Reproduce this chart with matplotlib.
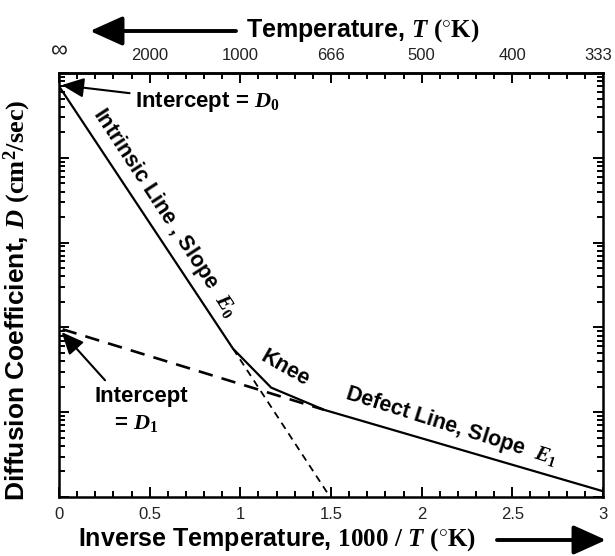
import matplotlib.pyplot as plt
import numpy as np
from matplotlib.ticker import MultipleLocator, LogLocator, NullFormatter
from matplotlib.transforms import ScaledTranslation

plt.rcParams['font.family'] = ['Liberation Sans', 'DejaVu Sans']
plt.rcParams['mathtext.fontset'] = 'custom'
plt.rcParams['mathtext.rm'] = 'Liberation Serif:bold'
plt.rcParams['mathtext.it'] = 'Liberation Serif:italic:bold'
plt.rcParams['mathtext.bf'] = 'Liberation Serif:bold'

# measured line (solid): intrinsic -> knee -> defect
solid_x = [0.0, 0.96, 1.17, 1.46, 3.0]
solid_D = [7.0e4, 56.0, 19.5, 10.7, 1.17]
# dashed extension of the defect line back to 1000/T = 0
defect_x = [0.02, 1.46]
defect_D = [95.0, 10.7]
# dashed extension of the intrinsic line
intr_x = [0.96, 1.495]
intr_D = [56.0, 1.0]

bottom_ticks = [0, 0.5, 1, 1.5, 2, 2.5, 3]
bottom_labels = ['0', '0.5', '1', '1.5', '2', '2.5', '3']
top_labels = ['\u221e', '2000', '1000', '666', '500', '400', '333']

fig = plt.figure(figsize=(6.15, 5.56), dpi=100)
ax = fig.add_axes([0.0959, 0.1061, 0.8846, 0.7626])

ax.plot(solid_x, solid_D, color='k', lw=1.6, solid_joinstyle='miter')
ax.plot(defect_x, defect_D, color='k', lw=1.9, linestyle=(0, (5.5, 3.5)))
ax.plot(intr_x, intr_D, color='k', lw=1.3, linestyle=(0, (4, 3)))

ax.set_yscale('log')
ax.set_xlim(0, 3)
ax.set_ylim(1, 1e5)
ax.yaxis.set_major_locator(LogLocator(base=10, numticks=10))
ax.yaxis.set_minor_locator(LogLocator(base=10, subs=np.arange(2, 10), numticks=10))
ax.yaxis.set_major_formatter(NullFormatter())
ax.yaxis.set_minor_formatter(NullFormatter())
ax.set_xticks(bottom_ticks, bottom_labels)
ax.xaxis.set_minor_locator(MultipleLocator(0.1))

for s in ax.spines.values():
    s.set_linewidth(1.8)

ax.tick_params(which='both', direction='in', left=True, right=True, top=False,
               bottom=True, width=1.4, labelsize=12, labelcolor='#222222')
ax.tick_params(which='major', length=7, pad=7.5)
ax.tick_params(which='minor', length=4)

secax = ax.secondary_xaxis('top')
secax.set_xticks(bottom_ticks, top_labels)
secax.xaxis.set_minor_locator(MultipleLocator(0.1))
secax.tick_params(which='both', direction='in', width=1.4, labelsize=12,
                  labelcolor='#222222')
secax.tick_params(which='major', length=7, pad=7.5)
secax.tick_params(which='minor', length=4)
secax.spines['top'].set_linewidth(1.8)

fig.canvas.draw()
top_ticklabels = secax.get_xticklabels()
top_ticklabels[0].set_fontsize(17)
top_ticklabels[-1].set_transform(top_ticklabels[-1].get_transform() +
                                 ScaledTranslation(-5 / 100, 0, fig.dpi_scale_trans))

# annotations
head = '-|>,head_length=0.9,head_width=0.4'
ax.annotate('Intercept = $D_0$', xy=(0.015, 7.2e4), xytext=(0.42, 4.5e4),
            ha='left', va='center', fontsize=16, fontweight='bold',
            arrowprops=dict(arrowstyle=head, color='k', lw=1.5, shrinkA=2,
                            shrinkB=0, mutation_scale=15))
ax.annotate('', xy=(0.015, 88), xytext=(0.254, 23.8),
            arrowprops=dict(arrowstyle=head, color='k', lw=1.5, shrinkA=0,
                            shrinkB=0, mutation_scale=15))
ax.text(0.452, 15.4, 'Intercept', ha='center', va='center', fontsize=16,
        fontweight='bold')
ax.text(0.425, 7.4, '= $D_1$', ha='center', va='center', fontsize=16,
        fontweight='bold')
ax.text(0.585, 2254, 'Intrinsic Line , Slope  $\\mathit{E}_0$', rotation=-56.8,
        rotation_mode='anchor', ha='center', va='center', fontsize=15.5,
        fontweight='bold')
ax.text(1.246, 33, 'Knee', rotation=-30, rotation_mode='anchor',
        ha='center', va='center', fontsize=15.5, fontweight='bold')
ax.text(2.165, 6.9, 'Defect Line, Slope  $\\mathit{E}_1$', rotation=-17.5,
        rotation_mode='anchor', ha='center', va='center', fontsize=15.5,
        fontweight='bold')

# axis titles with arrows
fig.text(277 / 615, 1 - 540 / 556,
         'Inverse Temperature, $1000\\ /\\ T\\ (^{\\circ}\\mathrm{K})$',
         ha='center', va='center', fontsize=18, fontweight='bold')
fig.text(246 / 615, 1 - 31 / 556, 'Temperature, $T\\ (^{\\circ}\\mathrm{K})$',
         ha='left', va='center', fontsize=18, fontweight='bold')
fig.text(17 / 615, 1 - 300 / 556,
         'Diffusion Coefficient, $D\\ (\\mathrm{cm}^2\\mathrm{/sec})$',
         ha='center', va='center', rotation=90, fontsize=19, fontweight='bold')

arrow_kw = dict(arrowstyle='-|>,head_length=1.0,head_width=0.45', color='k',
                lw=2.8, shrinkA=0, shrinkB=0, mutation_scale=20)
ax.annotate('', xy=(606 / 615, 1 - 540 / 556), xytext=(497 / 615, 1 - 540 / 556),
            xycoords='figure fraction', textcoords='figure fraction',
            arrowprops=arrow_kw, annotation_clip=False)
ax.annotate('', xy=(90 / 615, 1 - 31 / 556), xytext=(236 / 615, 1 - 31 / 556),
            xycoords='figure fraction', textcoords='figure fraction',
            arrowprops=arrow_kw, annotation_clip=False)

fig.savefig('out.png', dpi=100)
